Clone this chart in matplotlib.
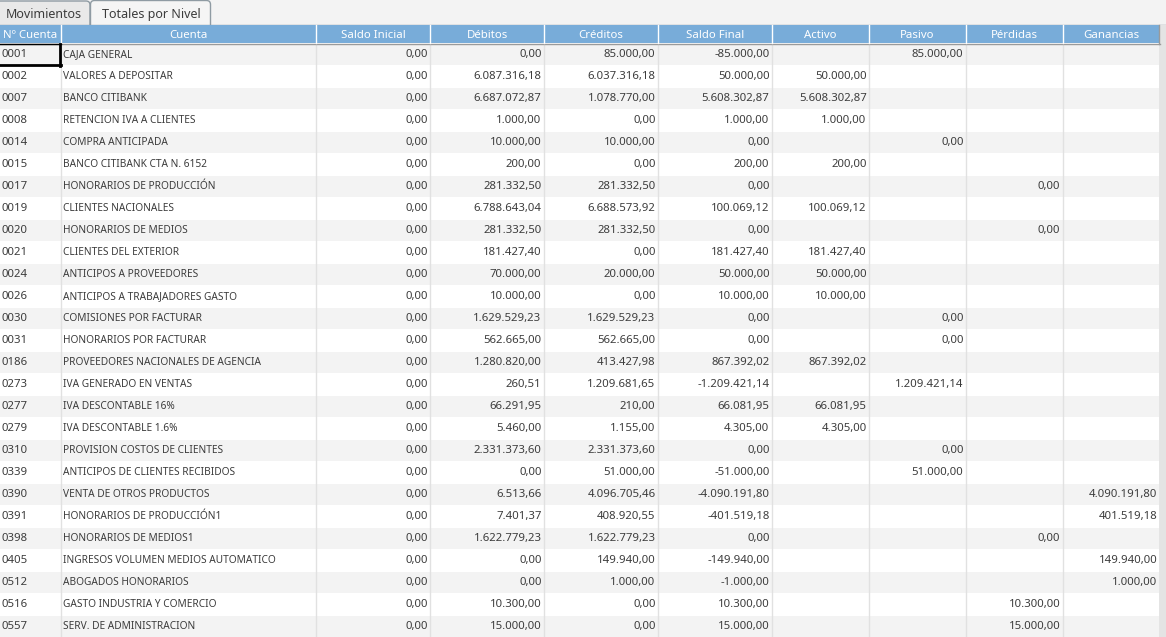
import matplotlib
matplotlib.use('Agg')
import matplotlib.pyplot as plt
import matplotlib.patches as patches

plt.rcParams['font.family'] = ['Noto Sans', 'DejaVu Sans']

# data
headers = ['Nº Cuenta', 'Cuenta', 'Saldo Inicial', 'Débitos', 'Créditos', 'Saldo Final',
           'Activo', 'Pasivo', 'Pérdidas', 'Ganancias']
codes = ['0001', '0002', '0007', '0008', '0014', '0015', '0017', '0019', '0020', '0021',
         '0024', '0026', '0030', '0031', '0186', '0273', '0277', '0279', '0310', '0339',
         '0390', '0391', '0398', '0405', '0512', '0516', '0557']
names = ['CAJA GENERAL', 'VALORES A DEPOSITAR', 'BANCO CITIBANK', 'RETENCION IVA A CLIENTES',
         'COMPRA ANTICIPADA', 'BANCO CITIBANK CTA N. 6152', 'HONORARIOS DE PRODUCCIÓN',
         'CLIENTES NACIONALES', 'HONORARIOS DE MEDIOS', 'CLIENTES DEL EXTERIOR',
         'ANTICIPOS A PROVEEDORES', 'ANTICIPOS A TRABAJADORES GASTO', 'COMISIONES POR FACTURAR',
         'HONORARIOS POR FACTURAR', 'PROVEEDORES NACIONALES DE AGENCIA', 'IVA GENERADO EN VENTAS',
         'IVA DESCONTABLE 16%', 'IVA DESCONTABLE 1.6%', 'PROVISION COSTOS DE CLIENTES',
         'ANTICIPOS DE CLIENTES RECIBIDOS', 'VENTA DE OTROS PRODUCTOS', 'HONORARIOS DE PRODUCCIÓN1',
         'HONORARIOS DE MEDIOS1', 'INGRESOS VOLUMEN MEDIOS AUTOMATICO', 'ABOGADOS HONORARIOS',
         'GASTO INDUSTRIA Y COMERCIO', 'SERV. DE ADMINISTRACION']
saldo_inicial = ['0,00'] * 27
debitos = ['0,00', '6.087.316,18', '6.687.072,87', '1.000,00', '10.000,00', '200,00', '281.332,50',
           '6.788.643,04', '281.332,50', '181.427,40', '70.000,00', '10.000,00', '1.629.529,23',
           '562.665,00', '1.280.820,00', '260,51', '66.291,95', '5.460,00', '2.331.373,60', '0,00',
           '6.513,66', '7.401,37', '1.622.779,23', '0,00', '0,00', '10.300,00', '15.000,00']
creditos = ['85.000,00', '6.037.316,18', '1.078.770,00', '0,00', '10.000,00', '0,00', '281.332,50',
            '6.688.573,92', '281.332,50', '0,00', '20.000,00', '0,00', '1.629.529,23',
            '562.665,00', '413.427,98', '1.209.681,65', '210,00', '1.155,00', '2.331.373,60',
            '51.000,00', '4.096.705,46', '408.920,55', '1.622.779,23', '149.940,00', '1.000,00',
            '0,00', '0,00']
saldo_final = ['-85.000,00', '50.000,00', '5.608.302,87', '1.000,00', '0,00', '200,00', '0,00',
               '100.069,12', '0,00', '181.427,40', '50.000,00', '10.000,00', '0,00', '0,00',
               '867.392,02', '-1.209.421,14', '66.081,95', '4.305,00', '0,00', '-51.000,00',
               '-4.090.191,80', '-401.519,18', '0,00', '-149.940,00', '-1.000,00', '10.300,00',
               '15.000,00']
activo = ['', '50.000,00', '5.608.302,87', '1.000,00', '', '200,00', '', '100.069,12', '',
          '181.427,40', '50.000,00', '10.000,00', '', '', '867.392,02', '', '66.081,95', '4.305,00',
          '', '', '', '', '', '', '', '', '']
pasivo = ['85.000,00', '', '', '', '0,00', '', '', '', '', '', '', '', '0,00', '0,00', '',
          '1.209.421,14', '', '', '0,00', '51.000,00', '', '', '', '', '', '', '']
perdidas = ['', '', '', '', '', '', '0,00', '', '0,00', '', '', '', '', '', '', '', '', '', '', '',
            '', '', '0,00', '', '', '10.300,00', '15.000,00']
ganancias = [''] * 20 + ['4.090.191,80', '401.519,18', '', '149.940,00', '1.000,00', '', '']
tabs = ['Movimientos', 'Totales por Nivel']

# layout, all in screen pixels
W, H = 1166, 637
col_edges = [0, 61, 316, 430, 544, 658, 772, 869, 966, 1063, 1160]
head_top, head_bot = 25, 43
row_top, row_h = 43.5, 22
band = '#f3f3f3'
header_col = '#78acd9'
text_col = '#3c3c3c'
fs_head = 8.2
fs_name = 7.3
fs_num = 8.2
fs_tab = 9.0

fig = plt.figure(figsize=(W / 100, H / 100), dpi=100, facecolor='white')
ax = fig.add_axes([0, 0, 1, 1])
ax.set_xlim(0, W)
ax.set_ylim(H, 0)
ax.axis('off')

# tab strip
ax.add_patch(patches.Rectangle((0, 0), W, head_top, fc=band, ec='none'))
ax.add_patch(patches.FancyBboxPatch((-4, 1), 94, 30, boxstyle='round,pad=0,rounding_size=4',
                                    fc='#e9e9e9', ec='#8f9ba3', lw=1, zorder=2))
ax.add_patch(patches.FancyBboxPatch((90.5, 0.5), 120, 30, boxstyle='round,pad=0,rounding_size=4',
                                    fc='#f5f5f5', ec='#8f9ba3', lw=1, zorder=2))
ax.add_patch(patches.Rectangle((0, 25), W, 30, fc='white', ec='none', zorder=3))
ax.plot([0, W], [24.5, 24.5], color='#8f9ba3', lw=1, zorder=4)
ax.text(6, 18, tabs[0], ha='left', va='baseline', fontsize=fs_tab, color=text_col, zorder=5)
ax.text(102, 18, tabs[1], ha='left', va='baseline', fontsize=fs_tab, color=text_col, zorder=5)

# row bands
n_rows = len(codes)
for i in range(n_rows + 1):
    y = row_top + i * row_h
    if i % 2 == 0:
        ax.add_patch(patches.Rectangle((0, y), col_edges[-1], row_h - 0.5, fc=band, ec='none', zorder=3.5))

# scrollbar strip
ax.add_patch(patches.Rectangle((col_edges[-1] - 1, 25), W - col_edges[-1] + 1, H, fc='#e4e4e4', ec='none', zorder=6))
ax.plot([col_edges[-1] - 1] * 2, [25, 44], color='#9a9a9a', lw=1, zorder=7)

# header
ax.add_patch(patches.Rectangle((0, head_top), col_edges[-1] - 1, head_bot - head_top, fc=header_col, ec='none', zorder=6))
ax.plot([0, col_edges[-1]], [43.5, 43.5], color='#9a9a9a', lw=1, zorder=7)
for left, right, label in zip(col_edges[:-1], col_edges[1:], headers):
    ax.text((left + right) / 2, 38.5, label, ha='center', va='baseline', fontsize=fs_head,
            color='white', zorder=8)
    if right < col_edges[-1]:
        ax.plot([right] * 2, [head_top, head_bot], color='white', lw=1, zorder=7)
        ax.plot([right] * 2, [44, H], color='#e1e1e1', lw=1, zorder=4)

# cells
columns = [saldo_inicial, debitos, creditos, saldo_final, activo, pasivo, perdidas, ganancias]
for i in range(n_rows):
    y = row_top + i * row_h + 13.2
    ax.text(1, y, codes[i], ha='left', va='baseline', fontsize=fs_num, color=text_col, zorder=5)
    ax.text(63, y, names[i], ha='left', va='baseline', fontsize=fs_name, color=text_col, zorder=5)
    for j, col in enumerate(columns):
        ax.text(col_edges[j + 3] - 2.5, y, col[i], ha='right', va='baseline', fontsize=fs_num,
                color=text_col, zorder=5)

# selected cell
ax.plot([0, 60.5], [44, 44], color='black', lw=1, zorder=9)
ax.plot([60, 60], [43.5, 66], color='black', lw=2, zorder=9)
ax.plot([0, 61], [65, 65], color='black', lw=2, zorder=9)

fig.savefig('out.png', dpi=100)
